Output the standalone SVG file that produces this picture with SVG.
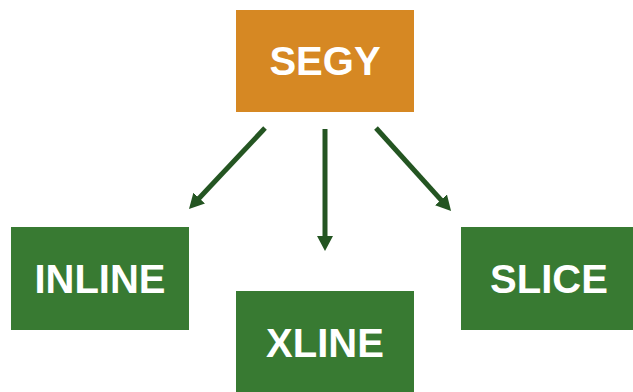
<svg xmlns="http://www.w3.org/2000/svg" width="633" height="392" viewBox="0 0 633 392">
  <style>
    .box-green { fill: #387a32; }
    .box-orange { fill: #d68823; }
    .label { font-family: "Liberation Sans", Arial, sans-serif; font-weight: bold; font-size: 40px; fill: #ffffff; text-anchor: middle; }
    .conn { stroke: #245522; stroke-width: 5; fill: none; }
  </style>
  <defs>
    <marker id="arrow" markerUnits="userSpaceOnUse" markerWidth="16" markerHeight="16" refX="3" refY="8" orient="auto">
      <path d="M0,0 L15,8 L0,16 z" fill="#245522"/>
    </marker>
  </defs>
  <rect width="633" height="392" fill="#ffffff"/>
  <g id="connectors">
    <line class="conn" x1="265" y1="128" x2="197.2" y2="200.3" marker-end="url(#arrow)"/>
    <line class="conn" x1="325" y1="129" x2="325" y2="239" marker-end="url(#arrow)"/>
    <line class="conn" x1="376" y1="128" x2="443" y2="202.1" marker-end="url(#arrow)"/>
  </g>
  <g id="segy">
    <rect class="box-orange" x="236" y="10" width="178" height="102"/>
    <text class="label" x="325" y="75">SEGY</text>
  </g>
  <g id="inline">
    <rect class="box-green" x="11" y="227" width="178" height="103"/>
    <text class="label" x="100" y="293">INLINE</text>
  </g>
  <g id="xline">
    <rect class="box-green" x="236" y="291" width="178" height="103"/>
    <text class="label" x="325" y="357">XLINE</text>
  </g>
  <g id="slice">
    <rect class="box-green" x="461" y="227" width="178" height="103"/>
    <text class="label" x="549" y="293">SLICE</text>
  </g>
</svg>
